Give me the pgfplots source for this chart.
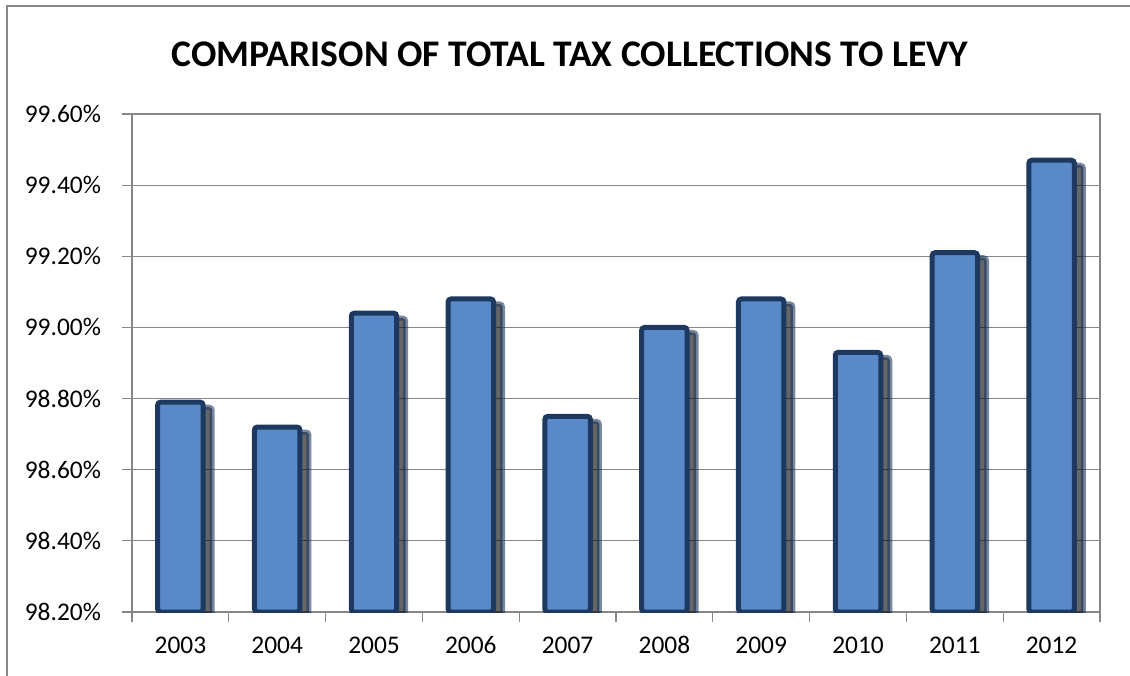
\documentclass[border=0pt]{standalone}
\usepackage{pgfplots}
\pgfplotsset{compat=1.18}
\usepackage{fontspec}
\setmainfont{Carlito}
\usetikzlibrary{shadows}

\definecolor{barfill}{RGB}{89,137,200}
\definecolor{baredge}{RGB}{29,57,96}
\definecolor{gridgray}{RGB}{134,134,134}

\begin{document}
\begin{tikzpicture}
% page frame (1px = 0.5pt, origin at the plot's lower left corner)
\clip (-66pt,-31.5pt) rectangle (499pt,306pt);
\draw[gridgray, line width=0.7pt] (-62.5pt,-40pt) -- (-62.5pt,303pt) -- (510pt,303pt);
\node[font=\fontsize{18.8}{22}\selectfont\bfseries] at (219pt,279pt)
  {COMPARISON OF TOTAL TAX COLLECTIONS TO LEVY};

\begin{axis}[
    at={(0pt,0pt)}, anchor=south west,
    scale only axis,
    width=484pt, height=249pt,
    ybar,
    xmin=0.5, xmax=10.5,
    ymin=98.2, ymax=99.6,
    xtick={0.5,1.5,...,10.5},
    xticklabels={2003,2004,2005,2006,2007,2008,2009,2010,2011,2012},
    x tick label as interval,
    ytick={98.2,98.4,98.6,98.8,99.0,99.2,99.4,99.6},
    yticklabel={\pgfmathprintnumber[fixed,fixed zerofill,precision=2]{\tick}\%},
    /pgf/number format/assume math mode=true,
    tick label style={font=\fontsize{12.7}{15}\selectfont},
    xticklabel style={text height=8.2pt, text depth=0pt, yshift=-4pt},
    yticklabel style={xshift=-7pt},
    ymajorgrids,
    grid style={gridgray, line width=0.6pt},
    axis line style={gridgray, line width=0.6pt},
    tick style={gridgray, line width=0.6pt},
    tick align=outside,
    major tick length=5pt,
    xtick pos=bottom, ytick pos=left,
    bar width=0.47,
]
\addplot[fill=barfill, draw=baredge, line width=2.5pt, rounded corners=1.5pt,
    drop shadow={shadow xshift=4.5pt, shadow yshift=-2.5pt, fill=black, opacity=0.6}]
    coordinates {
        (1,98.79) (2,98.72) (3,99.04) (4,99.08) (5,98.75)
        (6,99.00) (7,99.08) (8,98.93) (9,99.21) (10,99.47)
    };
\end{axis}
\end{tikzpicture}
\end{document}
